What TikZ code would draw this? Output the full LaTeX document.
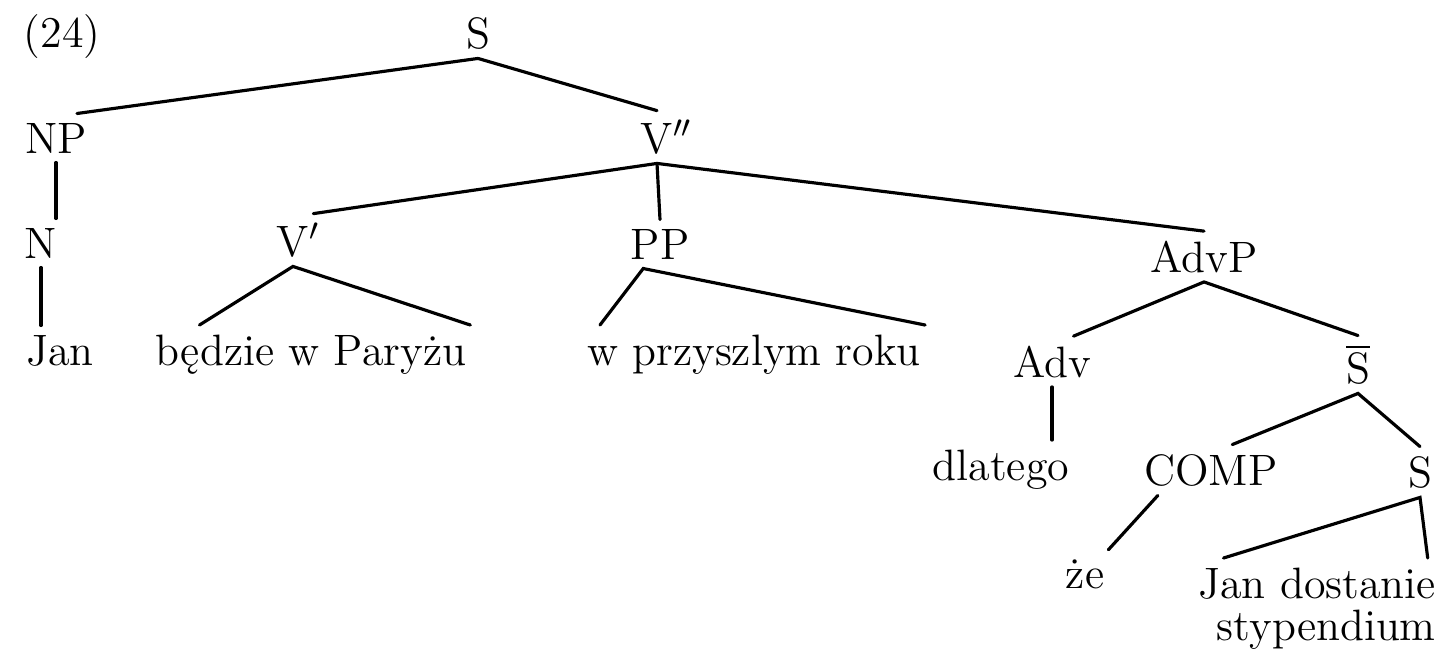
\documentclass[tikz,border=0pt]{standalone}
\usepackage{fontspec}
\usepackage{tikz}
\usetikzlibrary{calc}
\tikzset{
  % Daraxt tugunlari
  cat/.style    = {anchor=base, inner xsep=1pt, inner ysep=2.5pt,
                   font=\fontsize{12.5}{12}\selectfont},
  leaf/.style   = {cat},
  % Shoxlar
  branch/.style = {line width=0.9pt, line cap=round},
}

\begin{document}
\begin{tikzpicture}[x=0.01cm, y=-0.01cm]
  \useasboundingbox (0,0) rectangle (1439,656);
  % Misol raqami
  \node[cat] (ex) at (62,47) {(24)};
  % Kategoriyalar
  \node[cat] (S)    at (478,48)   {S};
  \node[cat] (NP)   at (56,153)   {NP};
  \node[cat] (VPP)  at (657,153)  {V\rlap{$''$}};
  \node[cat] (N)    at (41,258)   {N};
  \node[cat] (VP)   at (293,256)  {V\rlap{$'$}};
  \node[cat] (PP)   at (660,259)  {PP};
  \node[cat] (AdvP) at (1204,272) {AdvP};
  \node[cat] (Adv)  at (1052,377) {Adv};
  \node[cat] (Sbar) at (1358,383) {$\overline{\mathrm{S}}$};
  \node[cat] (COMP) at (1211,485) {COMP};
  \node[cat] (Slow) at (1420,487) {S};
  % Barglar
  \node[leaf] (Jan)    at (60,365)   {Jan};
  \node[leaf] (bedzie) at (311,365)  {będzie w Paryżu};
  \node[leaf] (wprzy)  at (754,365)  {w przyszlym roku};
  \node[leaf] (dlatego) at (1001,480) {dlatego};
  \node[leaf] (ze)     at (1085,588) {że};
  \node[leaf, anchor=north east, align=right] (JanDost) at (1440,558)
    {Jan dostanie\\stypendium};
  % Shoxlar
  \draw[branch] (S.south) -- ($(NP.north)!0.6!(NP.north east)$);
  \draw[branch] (S.south) -- (VPP.north);
  \draw[branch] (NP.south) -- (NP.south |- N.north);
  \draw[branch] (N.south) -- (N.south |- Jan.north);
  \draw[branch] (VPP.south) -- (VP.north east);
  \draw[branch] (VPP.south) -- (PP.north);
  \draw[branch] (VPP.south) -- (AdvP.north);
  \draw[branch] ($(bedzie.north west)!0.15!(bedzie.north east)$)
    -- (VP.south) -- (bedzie.north east);
  \draw[branch] ($(wprzy.north west)!0.05!(wprzy.north east)$)
    -- ($(PP.south)!0.5!(PP.south west)$) -- (wprzy.north east);
  \draw[branch] ($(Adv.north)!0.5!(Adv.north east)$)
    -- (AdvP.south) -- (Sbar.north);
  \draw[branch] (Adv.south) -- (Adv.south |- dlatego.north);
  \draw[branch] ($(COMP.north)!0.3!(COMP.north east)$)
    -- (Sbar.south) -- (Slow.north);
  \draw[branch] ($(COMP.south)!0.75!(COMP.south west)$) -- (ze.north east);
  \draw[branch] ($(JanDost.north west)!0.12!(JanDost.north east)$)
    -- (Slow.south) -- ($(JanDost.north west)!0.95!(JanDost.north east)$);
\end{tikzpicture}
\end{document}
